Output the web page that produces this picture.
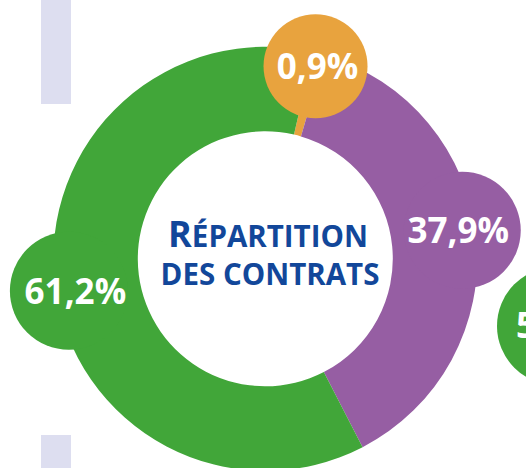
<!DOCTYPE html>
<html>
<head>
<meta charset="utf-8">
<script src="https://cdn.jsdelivr.net/npm/d3@7"></script>
<style>
  body { margin: 0; background: #fff; }
  svg { display: block; font-family: "Open Sans", "DejaVu Sans", sans-serif; font-weight: 700; }
</style>
</head>
<body>
<div id="visual"></div>
<script>
// data
var categories = ["autre", "cat2", "cat1"];
var shares = [0.9, 37.9, 61.2];
var labels = ["0,9%", "37,9%", "61,2%"];
var colors = ["#e8a33e", "#965ea3", "#41a639"];
var titleLine1 = ["R", "ÉPARTITION"];
var titleLine2 = "DES CONTRATS";

var width = 526,
  height = 468,
  cx = 265.3,
  cy = 258.8,
  innerR = 127.5,
  outerR = 212;

// bubble placement per slice (angle nudge in degrees, radius, label dx)
var bubbleNudge = [0, -2.7, -2.1];
var bubbleR = [52, 58.5, 59];
var labelDx = [2, -4, 6.5];

var svg = d3
  .select("#visual")
  .append("svg")
  .attr("width", width)
  .attr("height", height);

//Lavender side bars
svg.append("rect").attr("x", 41).attr("y", 0).attr("width", 30).attr("height", 104).attr("fill", "#dddef0");
svg.append("rect").attr("x", 41).attr("y", 435).attr("width", 30).attr("height", 40).attr("fill", "#dddef0");

var rad = Math.PI / 180;
var pie = d3
  .pie()
  .sort(null)
  .startAngle(13 * rad)
  .endAngle(373 * rad);

var arcs = pie(shares);

var arc = d3
  .arc()
  .innerRadius(innerR)
  .outerRadius(outerR);

var g = svg.append("g").attr("transform", "translate(" + cx + "," + cy + ")");

g.selectAll("path")
  .data(arcs)
  .enter()
  .append("path")
  .attr("d", arc)
  .attr("fill", (d, i) => colors[i]);

//Bubbles sitting on the ring
var bubbleDist = 199;
function bubblePos(d, i) {
  var a = (d.startAngle + d.endAngle) / 2 + bubbleNudge[i] * rad;
  return [Math.sin(a) * bubbleDist, -Math.cos(a) * bubbleDist];
}

var bubbles = g
  .selectAll(".bubble")
  .data(arcs)
  .enter()
  .append("g")
  .attr("class", "bubble")
  .attr("transform", (d, i) => "translate(" + bubblePos(d, i) + ")");

bubbles
  .append("circle")
  .attr("r", (d, i) => bubbleR[i])
  .attr("fill", (d, i) => colors[i]);

bubbles
  .append("text")
  .attr("x", (d, i) => labelDx[i])
  .attr("y", 13)
  .attr("text-anchor", "middle")
  .attr("fill", "#fff")
  .attr("font-size", 35)
  .text((d, i) => labels[i]);

//Center title
var title = svg
  .append("text")
  .attr("text-anchor", "middle")
  .attr("fill", "#12479a");

var t1 = title.append("tspan").attr("x", 268).attr("y", 247);
t1.append("tspan").attr("font-size", 36).text(titleLine1[0]);
t1.append("tspan").attr("font-size", 29.5).text(titleLine1[1]);

title
  .append("tspan")
  .attr("x", 270)
  .attr("y", 285)
  .attr("font-size", 29.5)
  .text(titleLine2);

//Next panel bubble, cut by the page edge
svg.append("circle").attr("cx", 556).attr("cy", 326).attr("r", 59).attr("fill", colors[2]);
svg.append("text").attr("x", 516).attr("y", 338).attr("fill", "#fff").attr("font-size", 35).text("5");
</script>
</body>
</html>
